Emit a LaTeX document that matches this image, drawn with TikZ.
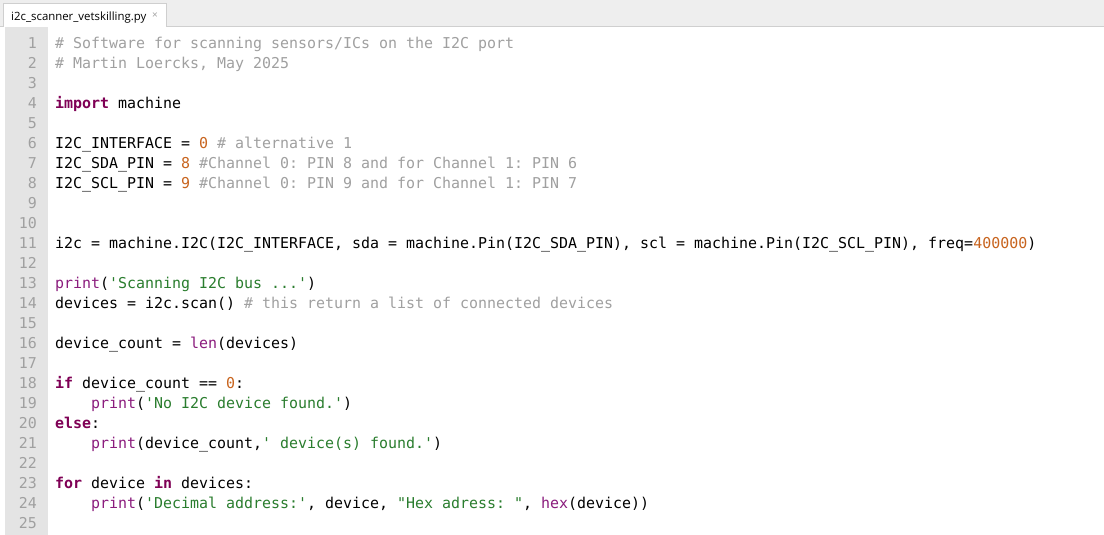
\documentclass[tikz,border=0pt]{standalone}
\usepackage{fontspec}
\usepackage{xcolor}
\newfontfamily\codefont{DejaVu Sans Mono}
\newfontfamily\tabfont{Open Sans}
\definecolor{kwcol}{HTML}{7F0055}
\definecolor{fncol}{HTML}{8B1C7D}
\definecolor{strcol}{HTML}{2A7D2E}
\definecolor{numcol}{HTML}{C8641E}
\definecolor{cmtcol}{HTML}{A0A0A0}
\definecolor{guttercol}{HTML}{E4E4E4}
\definecolor{barcol}{HTML}{EEEEEE}
\definecolor{edgecol}{HTML}{CFCFCF}
\newcommand\ckw[1]{\textcolor{kwcol}{\bfseries #1}}
\newcommand\cfn[1]{\textcolor{fncol}{#1}}
\newcommand\cstr[1]{\textcolor{strcol}{#1}}
\newcommand\cnum[1]{\textcolor{numcol}{#1}}
\newcommand\ccmt[1]{\textcolor{cmtcol}{#1}}
\frenchspacing

\begin{document}
\begin{tikzpicture}[x=1pt, y=-1pt,
		code/.style={anchor=base west, inner sep=0pt, font=\codefont\fontsize{14.95}{18}\selectfont},
		lnum/.style={anchor=base east, inner sep=0pt, text=cmtcol, font=\codefont\fontsize{14.95}{18}\selectfont},
	]
		\useasboundingbox (0,0) rectangle (1104,535);
		% window and tab bar
		\fill[white] (0,0) rectangle (1104,535);
		\fill[barcol] (0,0) rectangle (1104,26.5);
		\draw[edgecol] (0,26.5) -- (1104,26.5);
		\fill[guttercol] (5,27) rectangle (48,535);
		\draw[edgecol, fill=white] (3,27) -- (3,3) -- (166,3) -- (166,27);
		\node[anchor=base west, inner sep=0pt, font=\tabfont\fontsize{11.4}{13}\selectfont] (tab) at (11,20.5) {i2c\_scanner\_vetskilling.py};
		\node[anchor=center, inner sep=0pt, text=cmtcol, font=\tabfont\fontsize{10}{10}\selectfont] (close) at (155,15.5) {×};

		% line numbers
		\foreach \i in {1,...,25}
			\node[lnum] (n\i) at (37,{28.5+20*\i}) {\i};

		% code
		\node[code] (l1) at (55,48.5) {\ccmt{\# Software for scanning sensors/ICs on the I2C port}};
		\node[code] (l2) at (55,68.5) {\ccmt{\# Martin Loercks, May 2025}};
		\node[code] (l4) at (55,108.5) {\ckw{import} machine};
		\node[code] (l6) at (55,148.5) {I2C\_INTERFACE = \cnum{0} \ccmt{\# alternative 1}};
		\node[code] (l7) at (55,168.5) {I2C\_SDA\_PIN = \cnum{8} \ccmt{\#Channel 0: PIN 8 and for Channel 1: PIN 6}};
		\node[code] (l8) at (55,188.5) {I2C\_SCL\_PIN = \cnum{9} \ccmt{\#Channel 0: PIN 9 and for Channel 1: PIN 7}};
		\node[code] (l11) at (55,248.5) {i2c = machine.I2C(I2C\_INTERFACE, sda = machine.Pin(I2C\_SDA\_PIN), scl = machine.Pin(I2C\_SCL\_PIN), freq=\cnum{400000})};
		\node[code] (l13) at (55,288.5) {\cfn{print}(\cstr{'Scanning I2C bus ...'})};
		\node[code] (l14) at (55,308.5) {devices = i2c.scan() \ccmt{\# this return a list of connected devices}};
		\node[code] (l16) at (55,348.5) {device\_count = \cfn{len}(devices)};
		\node[code] (l18) at (55,388.5) {\ckw{if} device\_count == \cnum{0}:};
		\node[code] (l19) at (91,408.5) {\cfn{print}(\cstr{'No I2C device found.'})};
		\node[code] (l20) at (55,428.5) {\ckw{else}:};
		\node[code] (l21) at (91,448.5) {\cfn{print}(device\_count,\cstr{' device(s) found.'})};
		\node[code] (l23) at (55,488.5) {\ckw{for} device \ckw{in} devices:};
		\node[code] (l24) at (91,508.5) {\cfn{print}(\cstr{'Decimal address:'}, device, \cstr{"Hex adress: "}, \cfn{hex}(device))};
	\end{tikzpicture}
\end{document}
